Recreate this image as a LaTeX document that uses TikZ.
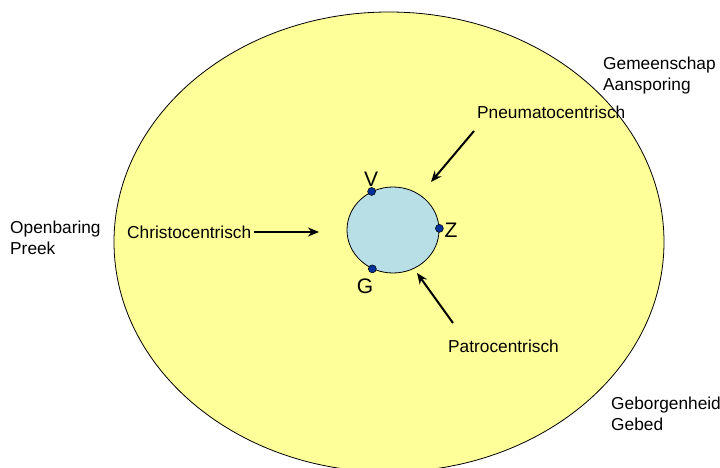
\documentclass[tikz,border=0pt]{standalone}
\usepackage{fontspec}
\setmainfont{Liberation Sans}
\usetikzlibrary{arrows.meta,shapes.geometric}
\definecolor{veldgeel}{HTML}{FFFF99}
\definecolor{kernblauw}{HTML}{B9DFE6}
\definecolor{puntblauw}{HTML}{003399}
\tikzstyle{tekst} = [font=\fontsize{17.3}{21}\selectfont, inner sep=0pt, align=left]
\tikzstyle{letter} = [font=\fontsize{21}{24}\selectfont, inner sep=0pt]
\tikzstyle{knoop} = [circle, draw=black, fill=puntblauw, inner sep=0pt,
  minimum size=8pt, line width=0.5pt]
\tikzstyle{diredge} = [line width=2pt, -{Stealth[length=11pt,width=9pt]}]

\begin{document}
\begin{tikzpicture}[x=1pt, y=-1pt]
    \useasboundingbox (0,0) rectangle (720,468);
    \node[ellipse, draw, fill=veldgeel, line width=0.8pt, inner sep=0pt,
        minimum width=550pt, minimum height=460pt] (veld) at (389,242) {};
    \node[ellipse, draw, fill=kernblauw, line width=0.8pt, inner sep=0pt,
        minimum width=92pt, minimum height=86pt] (kern) at (393,230) {};
    \node[knoop] (v) at (kern.119) {};
    \node[knoop] (z) at (kern.2) {};
    \node[knoop] (g) at (kern.242) {};
    \node[letter] (vtekst) at (371,179) {V};
    \node[letter] (ztekst) at (451,230) {Z};
    \node[letter] (gtekst) at (365,286) {G};

    \node[tekst, anchor=west] (openbaring) at (10,238) {Openbaring\\Preek};
    \node[tekst, anchor=west] (gemeenschap) at (603,76) {Gemeenschap\\Aansporing};
    \node[tekst, anchor=west] (geborgenheid) at (611,414) {Geborgenheid\\Gebed};
    \node[tekst, anchor=west] (christo) at (127,232) {Christocentrisch};
    \node[tekst, anchor=west] (pneuma) at (477,112) {Pneumatocentrisch};
    \node[tekst, anchor=west] (patro) at (448,346) {Patrocentrisch};

    \coordinate (christopunt) at (319,232);
    \coordinate (pneumastart) at (474,131);
    \coordinate (pneumapunt) at (431,182);
    \coordinate (patrostart) at (453,323);
    \coordinate (patropunt) at (417,273);
    \draw[diredge] ([xshift=3pt]christo.east) -- (christopunt);
    \draw[diredge] (pneumastart) -- (pneumapunt);
    \draw[diredge] (patrostart) -- (patropunt);
\end{tikzpicture}
\end{document}
